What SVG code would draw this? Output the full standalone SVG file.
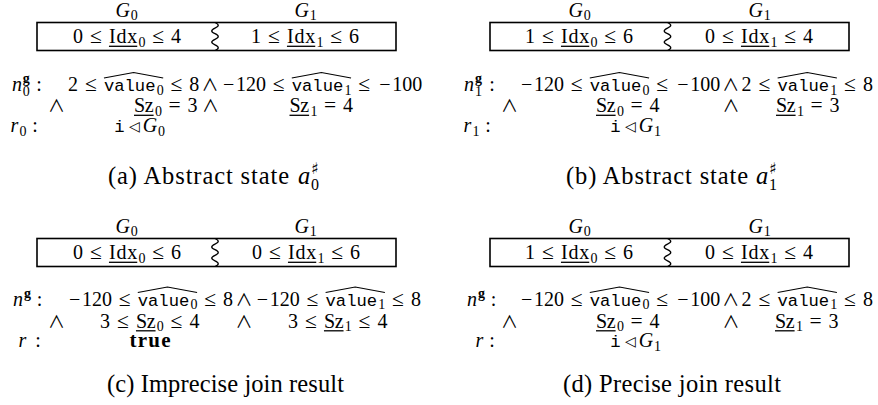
<svg xmlns="http://www.w3.org/2000/svg" width="878" height="405" viewBox="0 0 878 405">
<style>
text{font-family:"Liberation Serif","DejaVu Serif",serif;font-size:20px;fill:#000;text-anchor:middle}
.i{font-style:italic}
.r{font-size:21.5px}
.tt{font-family:"Liberation Mono","DejaVu Sans Mono",monospace;font-size:17.2px}
.s{font-size:14px}
.b{font-weight:bold}
.sy{font-family:"Noto Sans CJK JP","DejaVu Sans",sans-serif;font-size:17px}
.tri{font-family:"DejaVu Sans",sans-serif;font-size:14px}
.sh{font-family:"DejaVu Sans",sans-serif;font-size:16px;text-anchor:start}
.st{text-anchor:start}
.cap{font-size:24.5px;text-anchor:start}
.box{fill:none;stroke:#000;stroke-width:1.6}
.wv{fill:none;stroke:#000;stroke-width:1.3}
.ul{stroke:#000;stroke-width:1.3}
.hat{fill:none;stroke:#000;stroke-width:1.1}
</style>
<defs>
<path id="wave" class="wv" d="M0,0 q6.5,2.8 0,5.6 t0,5.6 t0,5.6 t0,5.6 t0,5.6"/>
</defs>

<!-- (a) -->
<g id="panel-a">
<text class="i" x="122.7" y="16.5">G</text><text class="s" x="134.3" y="20">0</text>
<text class="i" x="301.7" y="16.5">G</text><text class="s" x="313.3" y="20">1</text>
<rect class="box" x="37" y="22.5" width="359" height="28"/>
<use href="#wave" x="215" y="22.5"/>
<text x="77.9" y="43">0</text><text class="r" x="95.9" y="43">≤</text>
<text class="st" x="108.95" y="43" textLength="28.3">Idx</text><line class="ul" x1="108.95" y1="46.3" x2="137.25" y2="46.3"/>
<text class="s" x="142" y="46.5">0</text><text class="r" x="158.2" y="43">≤</text><text x="176.1" y="43">4</text>
<text x="255.9" y="43">1</text><text class="r" x="273.9" y="43">≤</text>
<text class="st" x="286.95" y="43" textLength="28.3">Idx</text><line class="ul" x1="286.95" y1="46.3" x2="315.25" y2="46.3"/>
<text class="s" x="320" y="46.5">1</text><text class="r" x="336.2" y="43">≤</text><text x="354.1" y="43">6</text>

<g transform="translate(0,2.5)">
<text class="i" x="16.9" y="88.5">n</text><text class="s b" x="26.3" y="80">g</text><text class="s" x="26.3" y="93">0</text><text x="39" y="88.5">:</text>
<text x="72.9" y="88.5">2</text><text class="r" x="90.9" y="88.5">≤</text>
<text class="tt" x="129.7" y="88.5">value</text><text class="s" x="160.2" y="92">0</text>
<path class="hat" d="M103.95,75.5 L133.6,70 L163.2,75.5"/>
<text class="r" x="176.3" y="88.5">≤</text><text x="194.3" y="88.5">8</text>
<text class="sy" x="210.1" y="88.5">∧</text>
<text x="228.6" y="88.5">−</text><text x="250.9" y="88.5">120</text><text class="r" x="278.7" y="88.5">≤</text>
<text class="tt" x="317.5" y="88.5">value</text><text class="s" x="348" y="92">1</text>
<path class="hat" d="M291.8,75.5 L321.4,70 L351.05,75.5"/>
<text class="r" x="364.1" y="88.5">≤</text><text x="384.8" y="88.5">−</text><text x="407.15" y="88.5">100</text>
</g>
<g transform="translate(0,2)">
<text class="sy" x="56.5" y="110">∧</text>
<text class="st" x="134" y="110" textLength="19.6">Sz</text><line class="ul" x1="134" y1="113.3" x2="153.6" y2="113.3"/>
<text class="s" x="158.4" y="113.5">0</text><text class="r" x="174.5" y="110">=</text><text x="192.5" y="110">3</text>
<text class="sy" x="210.5" y="110">∧</text>
<text class="st" x="289.5" y="110" textLength="19.6">Sz</text><line class="ul" x1="289.5" y1="113.3" x2="309.1" y2="113.3"/>
<text class="s" x="313.9" y="113.5">1</text><text class="r" x="330" y="110">=</text><text x="348" y="110">4</text>
</g>
<g transform="translate(0,0.5)">
<text class="i" x="14.4" y="131.5">r</text><text class="s" x="23" y="135">0</text><text x="35" y="131.5">:</text>
<text class="tt" x="119.5" y="131.5">i</text><text class="tri" x="134.5" y="130.5">◁</text>
<text class="i" x="150" y="131.5">G</text><text class="s" x="161.6" y="135">0</text>
</g>
<g transform="translate(0,5)">
<text class="cap" x="108" y="179" textLength="181">(a) Abstract state</text>
<text class="cap i" x="298" y="179">a</text>
<text class="sh" x="311" y="169">♯</text>
<text class="s st" x="311" y="184.5" style="font-size:16px">0</text>
</g>
</g>

<!-- (b) -->
<g id="panel-b">
<text class="i" x="575.7" y="16.5">G</text><text class="s" x="587.3" y="20">0</text>
<text class="i" x="755.7" y="16.5">G</text><text class="s" x="767.3" y="20">1</text>
<rect class="box" x="490" y="22.5" width="359" height="28"/>
<use href="#wave" x="667.5" y="22.5"/>
<text x="529.9" y="43">1</text><text class="r" x="547.9" y="43">≤</text>
<text class="st" x="560.95" y="43" textLength="28.3">Idx</text><line class="ul" x1="560.95" y1="46.3" x2="589.25" y2="46.3"/>
<text class="s" x="594" y="46.5">0</text><text class="r" x="610.2" y="43">≤</text><text x="628.1" y="43">6</text>
<text x="709.9" y="43">0</text><text class="r" x="727.9" y="43">≤</text>
<text class="st" x="740.95" y="43" textLength="28.3">Idx</text><line class="ul" x1="740.95" y1="46.3" x2="769.25" y2="46.3"/>
<text class="s" x="774" y="46.5">1</text><text class="r" x="790.2" y="43">≤</text><text x="808.1" y="43">4</text>

<g transform="translate(0,2.5)">
<text class="i" x="469" y="88.5">n</text><text class="s b" x="478.5" y="80">g</text><text class="s" x="478.5" y="93">1</text><text x="492" y="88.5">:</text>
<text x="526.6" y="88.5">−</text><text x="548.95" y="88.5">120</text><text class="r" x="576.7" y="88.5">≤</text>
<text class="tt" x="615.5" y="88.5">value</text><text class="s" x="646" y="92">0</text>
<path class="hat" d="M589.8,75.5 L619.45,70 L649.1,75.5"/>
<text class="r" x="662.2" y="88.5">≤</text><text x="682.9" y="88.5">−</text><text x="705.2" y="88.5">100</text>
<text class="sy" x="730.8" y="88.5">∧</text>
<text x="746.6" y="88.5">2</text><text class="r" x="764.5" y="88.5">≤</text>
<text class="tt" x="803.3" y="88.5">value</text><text class="s" x="833.8" y="92">1</text>
<path class="hat" d="M777.6,75.5 L807.25,70 L836.9,75.5"/>
<text class="r" x="850" y="88.5">≤</text><text x="868" y="88.5">8</text>
</g>
<g transform="translate(0,2)">
<text class="sy" x="509.5" y="110">∧</text>
<text class="st" x="596" y="110" textLength="19.6">Sz</text><line class="ul" x1="596" y1="113.3" x2="615.6" y2="113.3"/>
<text class="s" x="620.4" y="113.5">0</text><text class="r" x="636.5" y="110">=</text><text x="654.5" y="110">4</text>
<text class="sy" x="731" y="110">∧</text>
<text class="st" x="776" y="110" textLength="19.6">Sz</text><line class="ul" x1="776" y1="113.3" x2="795.6" y2="113.3"/>
<text class="s" x="800.4" y="113.5">1</text><text class="r" x="816.5" y="110">=</text><text x="834.5" y="110">3</text>
</g>
<g transform="translate(0,0.5)">
<text class="i" x="467.4" y="131.5">r</text><text class="s" x="476" y="135">1</text><text x="488" y="131.5">:</text>
<text class="tt" x="615.5" y="131.5">i</text><text class="tri" x="630.5" y="130.5">◁</text>
<text class="i" x="646" y="131.5">G</text><text class="s" x="657.6" y="135">1</text>
</g>
<g transform="translate(0,5)">
<text class="cap" x="566" y="179" textLength="182">(b) Abstract state</text>
<text class="cap i" x="756" y="179">a</text>
<text class="sh" x="769" y="169">♯</text>
<text class="s st" x="769" y="184.5" style="font-size:16px">1</text>
</g>
</g>

<!-- (c) -->
<g id="panel-c" transform="translate(0,216)">
<text class="i" x="122.7" y="16.5">G</text><text class="s" x="134.3" y="20">0</text>
<text class="i" x="301.7" y="16.5">G</text><text class="s" x="313.3" y="20">1</text>
<rect class="box" x="37" y="22.5" width="359" height="28"/>
<use href="#wave" x="215" y="22.5"/>
<text x="77.9" y="43">0</text><text class="r" x="95.9" y="43">≤</text>
<text class="st" x="108.95" y="43" textLength="28.3">Idx</text><line class="ul" x1="108.95" y1="46.3" x2="137.25" y2="46.3"/>
<text class="s" x="142" y="46.5">0</text><text class="r" x="158.2" y="43">≤</text><text x="176.1" y="43">6</text>
<text x="256.9" y="43">0</text><text class="r" x="274.9" y="43">≤</text>
<text class="st" x="287.95" y="43" textLength="28.3">Idx</text><line class="ul" x1="287.95" y1="46.3" x2="316.25" y2="46.3"/>
<text class="s" x="321" y="46.5">1</text><text class="r" x="337.2" y="43">≤</text><text x="355.1" y="43">6</text>

<g transform="translate(0,1)">
<text class="i" x="17.9" y="88.5">n</text><text class="s b" x="27.5" y="80.5">g</text><text x="39.5" y="88.5">:</text>
<text x="74.6" y="88.5">−</text><text x="96.95" y="88.5">120</text><text class="r" x="124.7" y="88.5">≤</text>
<text class="tt" x="163.5" y="88.5">value</text><text class="s" x="194" y="92">0</text>
<path class="hat" d="M137.8,75.5 L167.45,70 L197.1,75.5"/>
<text class="r" x="210.2" y="88.5">≤</text><text x="228.1" y="88.5">8</text>
<text class="sy" x="243.9" y="88.5">∧</text>
<text x="262.4" y="88.5">−</text><text x="284.76" y="88.5">120</text><text class="r" x="312.5" y="88.5">≤</text>
<text class="tt" x="351.3" y="88.5">value</text><text class="s" x="381.8" y="92">1</text>
<path class="hat" d="M325.6,75.5 L355.25,70 L384.9,75.5"/>
<text class="r" x="398" y="88.5">≤</text><text x="416" y="88.5">8</text>
</g>
<g transform="translate(0,1.5)">
<text class="sy" x="56.5" y="110">∧</text>
<text x="104.9" y="110">3</text><text class="r" x="122.9" y="110">≤</text>
<text class="st" x="135.95" y="110" textLength="19.6">Sz</text><line class="ul" x1="135.95" y1="113.3" x2="155.55" y2="113.3"/>
<text class="s" x="160.3" y="113.5">0</text><text class="r" x="176.5" y="110">≤</text><text x="194.4" y="110">4</text>
<text class="sy" x="244" y="110">∧</text>
<text x="292.9" y="110">3</text><text class="r" x="310.9" y="110">≤</text>
<text class="st" x="323.95" y="110" textLength="19.6">Sz</text><line class="ul" x1="323.95" y1="113.3" x2="343.55" y2="113.3"/>
<text class="s" x="348.3" y="113.5">1</text><text class="r" x="364.5" y="110">≤</text><text x="382.4" y="110">4</text>
</g>
<g transform="translate(0,-0.5)">
<text class="i" x="22.4" y="131.5">r</text><text x="38" y="131.5">:</text>
<text class="b" x="150" y="131.5" style="font-size:21px" textLength="41">true</text>
</g>
<text class="cap" x="107" y="176" textLength="237">(c) Imprecise join result</text>
</g>

<!-- (d) -->
<g id="panel-d" transform="translate(0,216)">
<text class="i" x="575.7" y="16.5">G</text><text class="s" x="587.3" y="20">0</text>
<text class="i" x="755.7" y="16.5">G</text><text class="s" x="767.3" y="20">1</text>
<rect class="box" x="490" y="22.5" width="359" height="28"/>
<use href="#wave" x="667.5" y="22.5"/>
<text x="529.9" y="43">1</text><text class="r" x="547.9" y="43">≤</text>
<text class="st" x="560.95" y="43" textLength="28.3">Idx</text><line class="ul" x1="560.95" y1="46.3" x2="589.25" y2="46.3"/>
<text class="s" x="594" y="46.5">0</text><text class="r" x="610.2" y="43">≤</text><text x="628.1" y="43">6</text>
<text x="709.9" y="43">0</text><text class="r" x="727.9" y="43">≤</text>
<text class="st" x="740.95" y="43" textLength="28.3">Idx</text><line class="ul" x1="740.95" y1="46.3" x2="769.25" y2="46.3"/>
<text class="s" x="774" y="46.5">1</text><text class="r" x="790.2" y="43">≤</text><text x="808.1" y="43">4</text>

<g transform="translate(0,1)">
<text class="i" x="472" y="88.5">n</text><text class="s b" x="481.5" y="80.5">g</text><text x="493.5" y="88.5">:</text>
<text x="526.6" y="88.5">−</text><text x="548.95" y="88.5">120</text><text class="r" x="576.7" y="88.5">≤</text>
<text class="tt" x="615.5" y="88.5">value</text><text class="s" x="646" y="92">0</text>
<path class="hat" d="M589.8,75.5 L619.45,70 L649.1,75.5"/>
<text class="r" x="662.2" y="88.5">≤</text><text x="682.9" y="88.5">−</text><text x="705.2" y="88.5">100</text>
<text class="sy" x="730.8" y="88.5">∧</text>
<text x="746.6" y="88.5">2</text><text class="r" x="764.5" y="88.5">≤</text>
<text class="tt" x="803.3" y="88.5">value</text><text class="s" x="833.8" y="92">1</text>
<path class="hat" d="M777.6,75.5 L807.25,70 L836.9,75.5"/>
<text class="r" x="850" y="88.5">≤</text><text x="868" y="88.5">8</text>
</g>
<g transform="translate(0,1.5)">
<text class="sy" x="509.5" y="110">∧</text>
<text class="st" x="596" y="110" textLength="19.6">Sz</text><line class="ul" x1="596" y1="113.3" x2="615.6" y2="113.3"/>
<text class="s" x="620.4" y="113.5">0</text><text class="r" x="636.5" y="110">=</text><text x="654.5" y="110">4</text>
<text class="sy" x="731" y="110">∧</text>
<text class="st" x="775" y="110" textLength="19.6">Sz</text><line class="ul" x1="775" y1="113.3" x2="794.6" y2="113.3"/>
<text class="s" x="799.4" y="113.5">1</text><text class="r" x="815.5" y="110">=</text><text x="833.5" y="110">3</text>
</g>
<g transform="translate(0,-0.5)">
<text class="i" x="479.4" y="131.5">r</text><text x="492" y="131.5">:</text>
<text class="tt" x="615.5" y="131.5">i</text><text class="tri" x="630.5" y="130.5">◁</text>
<text class="i" x="646" y="131.5">G</text><text class="s" x="657.6" y="135">1</text>
</g>
<text class="cap" x="563" y="176" textLength="218">(d) Precise join result</text>
</g>
</svg>
